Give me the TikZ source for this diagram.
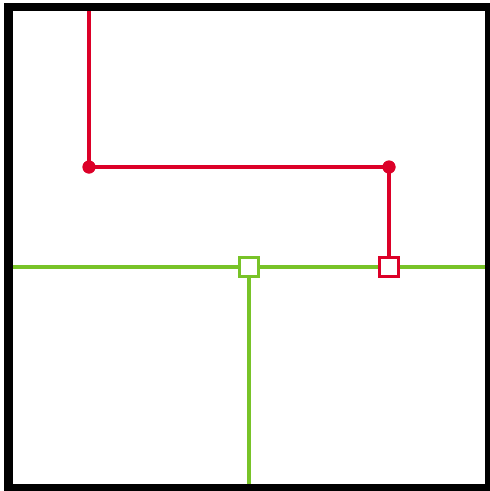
\documentclass[tikz,border=0pt]{standalone}
\usetikzlibrary{calc}
\definecolor{wred}{RGB}{220,0,40}
\definecolor{wgreen}{RGB}{120,195,40}
\begin{document}
\begin{tikzpicture}[x=1pt,y=-1pt,
  redline/.style={draw=wred,line width=3.6pt},
  greenline/.style={draw=wgreen,line width=3.6pt},
  dot/.style={circle,fill=wred,inner sep=0pt,minimum size=13pt},
  sq/.style={rectangle,fill=white,line width=3.6pt,inner sep=0pt,minimum size=19pt},
  frame/.style={draw=black,line width=8.5pt}]
\useasboundingbox (0,0) rectangle (490,491);
\coordinate (rtop) at (89,7);
\coordinate (gleft) at (9,267);
\coordinate (gright) at (489,267);
\coordinate (gbot) at (249,488);
\node[dot] (d1) at (89,167) {};
\node[dot] (d2) at (389,167) {};
\node[sq,draw=wred] (rs) at (389,267) {};
\node[sq,draw=wgreen] (gs) at (249,267) {};
\draw[greenline] (gleft) -- (gs.west);
\draw[greenline] (gs.east) -- (rs.west);
\draw[greenline] (rs.east) -- (gright);
\draw[greenline] (gs.south) -- (gbot);
\draw[redline] (rtop) -- (d1.center) -- (d2.center) -- (rs.north);
\node[dot] at (d1) {};
\node[dot] at (d2) {};
\node[sq,draw=wred] at (rs) {};
\node[sq,draw=wgreen] at (gs) {};
\draw[frame] (8.7,6.8) rectangle (489.5,488.5);
\end{tikzpicture}
\end{document}
